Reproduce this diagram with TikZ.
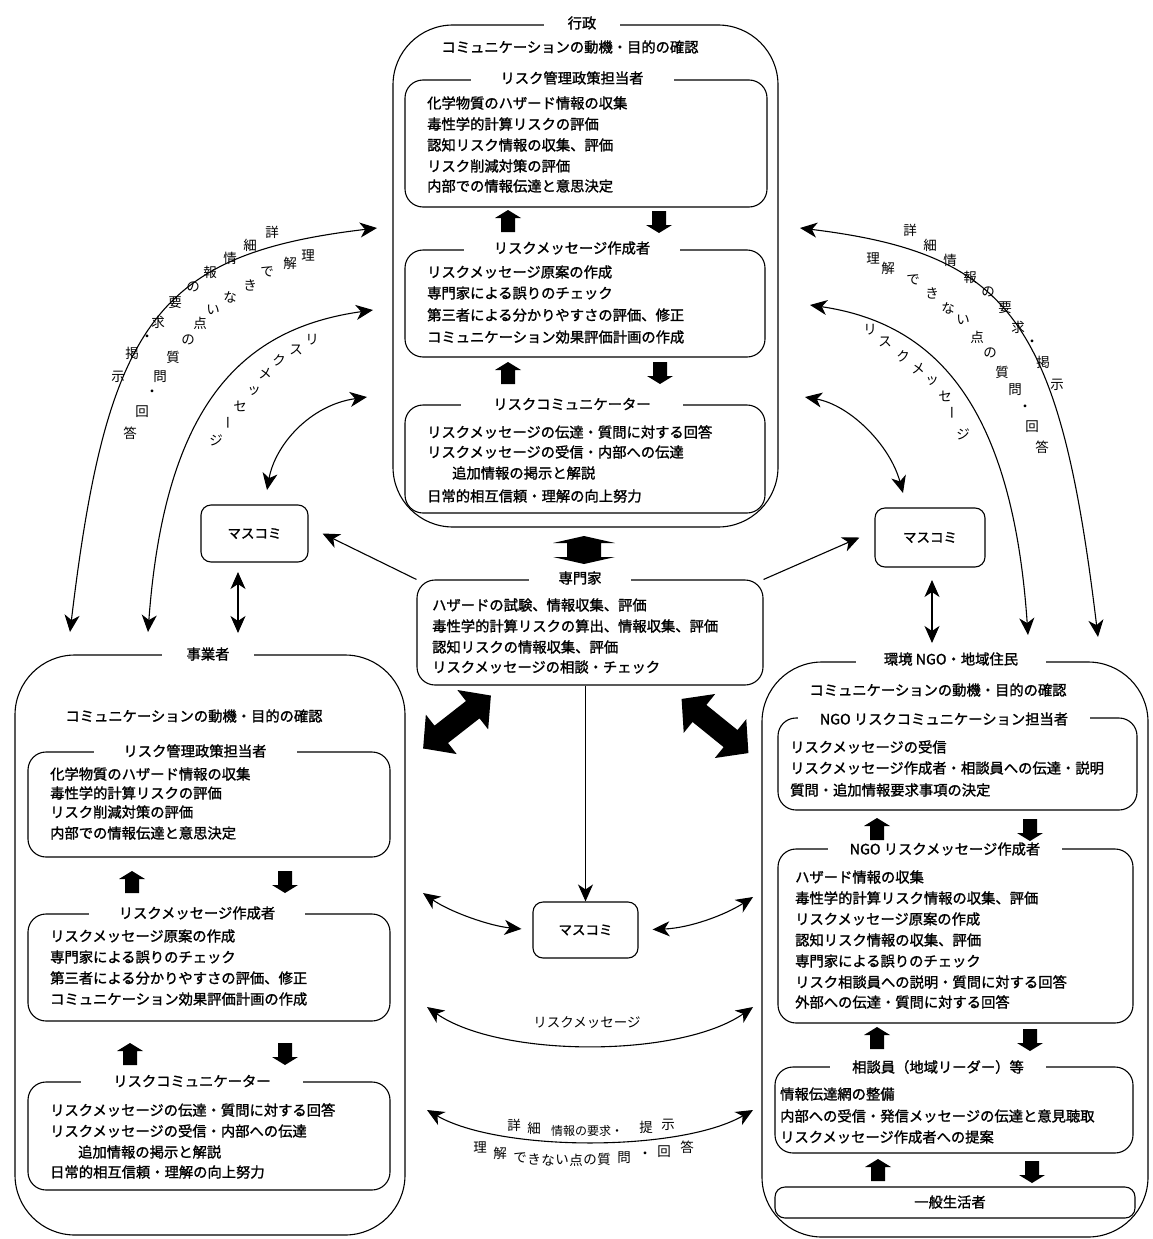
\documentclass[tikz,border=0pt]{standalone}
\usepackage{fontspec}
\setmainfont{Noto Sans CJK JP}
\newfontfamily\boxfont{Noto Sans CJK JP}[FakeBold=1.4]
\usetikzlibrary{arrows.meta}
\newcommand\fsA{\boxfont\fontsize{14.3}{17}\selectfont}
\newcommand\fsM{\boxfont\fontsize{13.5}{16}\selectfont}
\newcommand\fsB{\fontsize{13.5}{16}\selectfont}
\newcommand\fsC{\fontsize{12}{14}\selectfont}
\newcommand\blkup[2]{\fill (#1-7,#2+11) -- (#1-7,#2-3) -- (#1-13,#2-3) -- (#1,#2-11) -- (#1+13,#2-3) -- (#1+7,#2-3) -- (#1+7,#2+11) -- cycle;}
\newcommand\blkdown[2]{\fill (#1-7,#2-11) -- (#1-7,#2+3) -- (#1-13,#2+3) -- (#1,#2+11) -- (#1+13,#2+3) -- (#1+7,#2+3) -- (#1+7,#2-11) -- cycle;}
\newcommand\blkdbl[7]{\begin{scope}[shift={(#1,#2)},rotate=#3]
\fill (-#4,0) -- (-#4+#5,#6) -- (-#4+#5,#7) -- (#4-#5,#7) -- (#4-#5,#6) -- (#4,0) -- (#4-#5,-#6) -- (#4-#5,-#7) -- (-#4+#5,-#7) -- (-#4+#5,-#6) -- cycle;
\end{scope}}
\tikzset{
 obox/.style={draw, line width=1.1pt, rounded corners=60pt, inner sep=0pt},
 ibox/.style={draw, line width=1.1pt, rounded corners=18pt, inner sep=0pt},
 mbox/.style={draw, line width=1.1pt, rounded corners=10pt, inner sep=0pt, font=\fsM},
 ttl/.style={fill=white, inner xsep=26pt, inner ysep=1pt, font=\fsA},
 ln/.style={anchor=west, inner sep=0pt, font=\fsA},
 ctr/.style={inner sep=0pt, font=\fsA},
 arctxt/.style={inner sep=0pt, font=\fsB},
 con/.style={line width=1.1pt},
 darr/.style={con, {Stealth[length=17pt,width=15pt,inset=5pt]}-{Stealth[length=17pt,width=15pt,inset=5pt]}},
 sarr/.style={con, -{Stealth[length=17pt,width=15pt,inset=5pt]}},
}
\begin{document}
\begin{tikzpicture}[x=1pt,y=-1pt]
\fill[white] (0,0) rectangle (1153,1239);
\useasboundingbox (0,0) rectangle (1153,1239);

% ===== 行政 =====
\node[obox, minimum width=385pt, minimum height=502pt] (gyo) at (585.5,276) {};
\node[ttl, inner xsep=24pt] (gyoT) at (582,23) {行政};
\node[ctr] (gyoM) at (570,47) {コミュニケーションの動機・目的の確認};
\node[ibox, minimum width=362pt, minimum height=127pt] (g1) at (586,143.5) {};
\node[ttl, inner xsep=30pt] (g1t) at (572,78) {リスク管理政策担当者};
\node[ln] (g1a) at (427,103) {化学物質のハザード情報の収集};
\node[ln] (g1b) at (427,124) {毒性学的計算リスクの評価};
\node[ln] (g1c) at (427,145) {認知リスク情報の収集、評価};
\node[ln] (g1d) at (427,166) {リスク削減対策の評価};
\node[ln] (g1e) at (427,186) {内部での情報伝達と意思決定};
\blkup{508}{221} \blkdown{659}{222}
\node[ibox, minimum width=360pt, minimum height=107pt] (g2) at (585,303.5) {};
\node[ttl, inner xsep=30pt] (g2t) at (572,248) {リスクメッセージ作成者};
\node[ln] (g2a) at (427,272) {リスクメッセージ原案の作成};
\node[ln] (g2b) at (427,293) {専門家による誤りのチェック};
\node[ln] (g2c) at (427,315) {第三者による分かりやすさの評価、修正};
\node[ln] (g2d) at (427,337) {コミュニケーション効果評価計画の作成};
\blkup{508}{373} \blkdown{660}{373}
\node[ibox, minimum width=360pt, minimum height=108pt] (g3) at (585,459) {};
\node[ttl, inner xsep=32pt] (g3t) at (572,404) {リスクコミュニケーター};
\node[ln] (g3a) at (427,432) {リスクメッセージの伝達・質問に対する回答};
\node[ln] (g3b) at (427,452) {リスクメッセージの受信・内部への伝達};
\node[ln] (g3c) at (452,473) {追加情報の掲示と解説};
\node[ln] (g3d) at (427,496) {日常的相互信頼・理解の向上努力};

% ===== 専門家 =====
\blkdbl{584}{550}{90}{14}{7}{31}{17}
\node[ibox, minimum width=346pt, minimum height=105pt] (sen) at (590,632.5) {};
\node[ttl, inner xsep=30pt] (senT) at (580,578) {専門家};
\node[ln] (sena) at (432,605) {ハザードの試験、情報収集、評価};
\node[ln] (senb) at (432,626) {毒性学的計算リスクの算出、情報収集、評価};
\node[ln] (senc) at (432,647) {認知リスクの情報収集、評価};
\node[ln] (send) at (432,667) {リスクメッセージの相談・チェック};

% ===== 事業者 =====
\node[obox, minimum width=390pt, minimum height=580pt] (jig) at (210,945) {};
\node[ttl, inner xsep=25pt] (jigT) at (208,654) {事業者};
\node[ctr] (jigM) at (194,716) {コミュニケーションの動機・目的の確認};
\node[ibox, minimum width=362pt, minimum height=105pt] (j1) at (209,804.5) {};
\node[ttl, inner xsep=30pt] (j1t) at (195,751) {リスク管理政策担当者};
\node[ln] (j1a) at (50,774) {化学物質のハザード情報の収集};
\node[ln] (j1b) at (50,793) {毒性学的計算リスクの評価};
\node[ln] (j1c) at (50,812) {リスク削減対策の評価};
\node[ln] (j1d) at (50,833) {内部での情報伝達と意思決定};
\blkup{132}{882} \blkdown{285}{882}
\node[ibox, minimum width=362pt, minimum height=107pt] (j2) at (209,967.5) {};
\node[ttl, inner xsep=30pt] (j2t) at (197,913) {リスクメッセージ作成者};
\node[ln] (j2a) at (50,936) {リスクメッセージ原案の作成};
\node[ln] (j2b) at (50,957) {専門家による誤りのチェック};
\node[ln] (j2c) at (50,978) {第三者による分かりやすさの評価、修正};
\node[ln] (j2d) at (50,999) {コミュニケーション効果評価計画の作成};
\blkup{130}{1054} \blkdown{285}{1054}
\node[ibox, minimum width=362pt, minimum height=108pt] (j3) at (209,1136) {};
\node[ttl, inner xsep=32pt] (j3t) at (192,1081) {リスクコミュニケーター};
\node[ln] (j3a) at (50,1110) {リスクメッセージの伝達・質問に対する回答};
\node[ln] (j3b) at (50,1131) {リスクメッセージの受信・内部への伝達};
\node[ln] (j3c) at (78,1152) {追加情報の掲示と解説};
\node[ln] (j3d) at (50,1172) {日常的相互信頼・理解の向上努力};

% ===== 環境NGO =====
\node[obox, minimum width=386pt, minimum height=575pt] (ngo) at (955,949.5) {};
\node[ttl, inner xsep=28pt] (ngoT) at (951,659) {環境 NGO・地域住民};
\node[ctr] (ngoM) at (938,690) {コミュニケーションの動機・目的の確認};
\node[ibox, minimum width=359pt, minimum height=92pt] (n1) at (957.5,764) {};
\node[ttl, inner xsep=22pt] (n1t) at (944,719) {NGO リスクコミュニケーション担当者};
\node[ln] (n1a) at (790,747) {リスクメッセージの受信};
\node[ln] (n1b) at (790,768) {リスクメッセージ作成者・相談員への伝達・説明};
\node[ln] (n1c) at (790,790) {質問・追加情報要求事項の決定};
\blkup{877}{829} \blkdown{1030}{830}
\node[ibox, minimum width=355pt, minimum height=174pt] (n2) at (955.5,936) {};
\node[ttl, inner xsep=22pt] (n2t) at (945,849) {NGO リスクメッセージ作成者};
\node[ln] (n2a) at (795,877) {ハザード情報の収集};
\node[ln] (n2b) at (795,898) {毒性学的計算リスク情報の収集、評価};
\node[ln] (n2c) at (795,919) {リスクメッセージ原案の作成};
\node[ln] (n2d) at (795,940) {認知リスク情報の収集、評価};
\node[ln] (n2e) at (795,961) {専門家による誤りのチェック};
\node[ln] (n2f) at (795,982) {リスク相談員への説明・質問に対する回答};
\node[ln] (n2g) at (795,1002) {外部への伝達・質問に対する回答};
\blkup{877}{1038} \blkdown{1030}{1040}
\node[ibox, minimum width=358pt, minimum height=86pt] (n3) at (954,1110) {};
\node[ttl, inner xsep=22pt] (n3t) at (938,1067) {相談員（地域リーダー）等};
\node[ln] (n3a) at (780,1094) {情報伝達網の整備};
\node[ln] (n3b) at (780,1116) {内部への受信・発信メッセージの伝達と意見聴取};
\node[ln] (n3c) at (780,1137) {リスクメッセージ作成者への提案};
\blkup{878}{1170} \blkdown{1032}{1172}
\node[draw, line width=1.1pt, rounded corners=10pt, minimum width=360pt, minimum height=31pt, inner sep=0pt] (n4) at (955,1202.5) {};
\node[ctr] (n4t) at (950,1202) {一般生活者};

% ===== マスコミ =====
\node[mbox, minimum width=107pt, minimum height=57pt] (mL) at (254.5,533.5) {マスコミ};
\node[mbox, minimum width=110pt, minimum height=59pt] (mR) at (930,537.5) {マスコミ};
\node[mbox, minimum width=105pt, minimum height=56pt] (mC) at (585.5,930) {マスコミ};

% ===== diagonal block arrows =====
\blkdbl{457}{722}{38}{43}{23}{25}{11}
\blkdbl{715}{726}{-39}{43}{23}{25}{11}

% ===== connector end points =====
\coordinate (loB) at (70,632); \coordinate (loT) at (377,228);
\coordinate (liB) at (148,632); \coordinate (liT) at (373,310);
\coordinate (roT) at (800,228); \coordinate (roB) at (1098,637);
\coordinate (riT) at (810,305); \coordinate (riB) at (1028,635);
\coordinate (lsT) at (367,397); \coordinate (lsB) at (267,490);
\coordinate (rsT) at (805,397); \coordinate (rsB) at (903,493);
\coordinate (mlA) at (238,572); \coordinate (mlB) at (238,633);
\coordinate (mrA) at (932,580); \coordinate (mrB) at (932,643);
\coordinate (mcl) at (423,893); \coordinate (mcr) at (753,897);
\coordinate (ma1) at (427,1007); \coordinate (ma2) at (753,1007);
\coordinate (ba1) at (427,1110); \coordinate (ba2) at (753,1110);

% ===== connectors =====
\draw[darr] (loB) .. controls (107,322) and (157,254) .. (loT);
\draw[darr] (liB) .. controls (165,400) and (245,328) .. (liT);
\draw[darr] (roT) .. controls (1012,254) and (1060,322) .. (roB);
\draw[darr] (riT) .. controls (932,323) and (1012,400) .. (riB);
\draw[darr] (lsB) .. controls (275,445) and (310,405) .. (lsT);
\draw[darr] (rsT) .. controls (850,405) and (890,445) .. (rsB);
\draw[darr] (mlA) -- (mlB);
\draw[darr] (mrA) -- (mrB);
\draw[sarr] (sen.north west) -- ([xshift=14pt]mL.east);
\draw[sarr] (sen.north east) -- ([xshift=-15pt]mR.west);
\draw[sarr] (sen.south -| mC.north) -- (mC.north);
\draw[darr, shorten >=11pt] (mcl) .. controls (450,912) and (490,926) .. (mC.west);
\draw[darr, shorten <=14pt] (mC.east) .. controls (690,928) and (725,915) .. (mcr);
\draw[darr] (ma1) .. controls (500,1058) and (680,1058) .. (ma2);
\draw[darr] (ba1) .. controls (500,1152) and (680,1152) .. (ba2);

% ===== arc texts =====
\foreach \c/\x/\y [count=\i] in {詳/272/232, 細/250/245, 情/230/258, 報/210/272, の/193/287, 要/175/303, 求/158/322, ・/147/338, 掲/132/353, 示/118/377}
  {\node[arctxt] (lo\i) at (\x,\y) {\c};}
\foreach \c/\x/\y [count=\i] in {理/308/255, 解/290/263, で/267/272, き/250/285, な/230/297, い/213/310, 点/200/323, の/188/340, 質/173/357, 問/160/377, ・/152/393, 回/142/412, 答/130/433}
  {\node[arctxt] (li\i) at (\x,\y) {\c};}
\foreach \c/\x/\y/\r [count=\i] in {リ/312/340/0, ス/296/350/0, ク/279/360/0, メ/265/374/0, ッ/254/391/0, セ/240/406/0, ー/231/423/90, ジ/216/440/0}
  {\node[arctxt, rotate=\r] (lm\i) at (\x,\y) {\c};}
\foreach \c/\x/\y [count=\i] in {詳/910/230, 細/930/245, 情/950/260, 報/970/277, の/988/292, 要/1005/308, 求/1018/327, ・/1032/343, 掲/1043/362, 示/1057/385}
  {\node[arctxt] (ro\i) at (\x,\y) {\c};}
\foreach \c/\x/\y [count=\i] in {理/873/258, 解/888/268, で/913/280, き/932/293, な/948/308, い/963/320, 点/977/337, の/990/353, 質/1002/372, 問/1015/390, ・/1025/408, 回/1032/427, 答/1042/447}
  {\node[arctxt] (ri\i) at (\x,\y) {\c};}
\foreach \c/\x/\y/\r [count=\i] in {リ/870/330/0, ス/885/342/0, ク/903/356/0, メ/918/369/0, ッ/932/381/0, セ/945/396/0, ー/955/413/90, ジ/963/434/0}
  {\node[arctxt, rotate=\r] (rm\i) at (\x,\y) {\c};}
\node[arctxt] (mamsg) at (587,1023) {リスクメッセージ};
\foreach \c/\x/\y [count=\i] in {詳/514/1125, 細/534/1128, 提/646/1127, 示/668/1125}
  {\node[arctxt] (bu\i) at (\x,\y) {\c};}
\node[inner sep=0pt, font=\fsC] (bumid) at (587,1131) {情報の要求・};
\foreach \c/\x/\y [count=\i] in {理/480/1147, 解/500/1153, で/520/1158, き/534/1159, な/548/1160, い/562/1160, 点/576/1160, の/590/1160, 質/604/1159, 問/624/1158, ・/645/1155, 回/664/1152, 答/687/1147}
  {\node[arctxt] (bl\i) at (\x,\y) {\c};}
\end{tikzpicture}
\end{document}
